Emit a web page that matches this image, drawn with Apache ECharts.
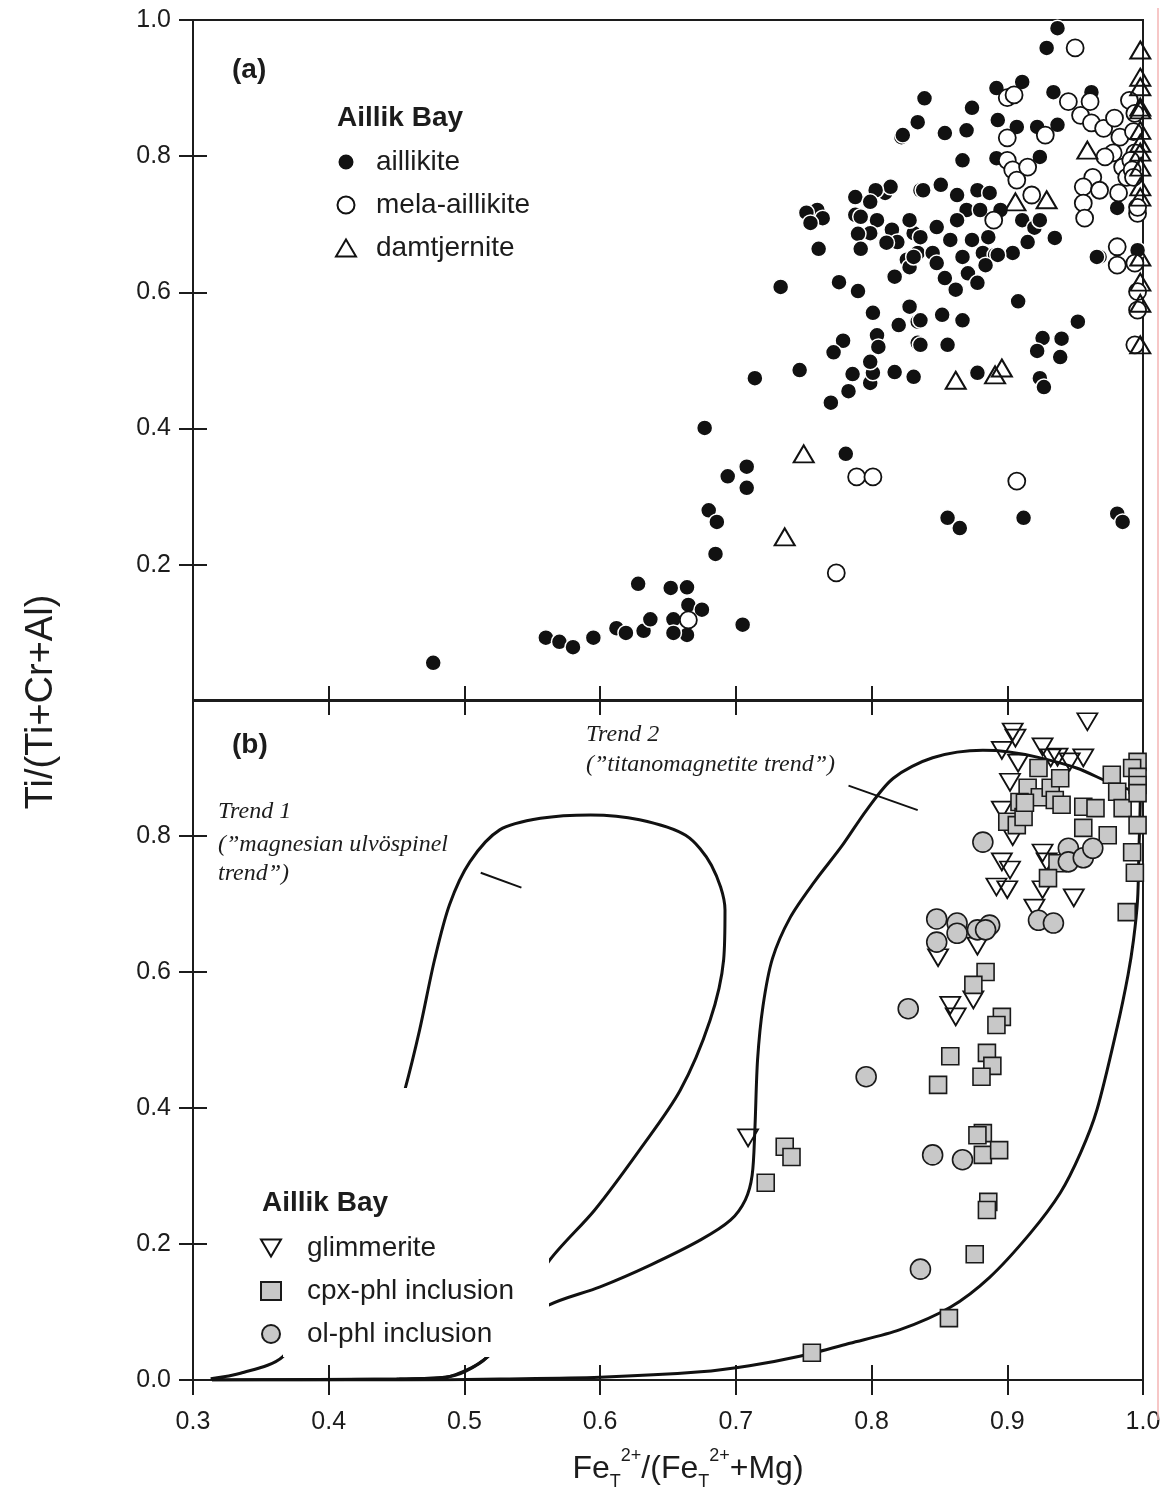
<!DOCTYPE html>
<html><head><meta charset="utf-8">
<script src="https://cdn.jsdelivr.net/npm/echarts@6/dist/echarts.min.js"></script>
<style>html,body{margin:0;padding:0;background:#fff}#c{width:1170px;height:1499px}</style>
</head><body><div id="c"></div>
<script>
// ---------- Panel (a) data: Ti/(Ti+Cr+Al) vs FeT2+/(FeT2++Mg) ----------
const aillikite = [
 [0.477,0.056],[0.560,0.093],[0.570,0.087],[0.580,0.079],[0.595,0.093],[0.612,0.107],[0.619,0.100],[0.632,0.103],[0.637,0.120],[0.654,0.120],
 [0.628,0.172],[0.652,0.166],[0.664,0.167],[0.665,0.141],[0.675,0.134],[0.664,0.097],[0.654,0.100],[0.705,0.112],[0.685,0.216],[0.680,0.280],
 [0.686,0.263],[0.694,0.330],[0.708,0.344],[0.708,0.313],[0.677,0.401],
 [0.714,0.474],[0.747,0.486],[0.781,0.363],[0.770,0.438],[0.783,0.455],[0.799,0.467],[0.786,0.480],[0.801,0.482],[0.817,0.483],[0.831,0.476],
 [0.779,0.529],[0.772,0.512],[0.801,0.570],[0.804,0.537],[0.805,0.520],[0.799,0.498],[0.820,0.552],[0.828,0.579],[0.834,0.557],[0.834,0.526],
 [0.839,0.885],[0.834,0.850],[0.822,0.828],[0.836,0.750],[0.810,0.746],[0.814,0.755],[0.803,0.750],[0.788,0.740],[0.799,0.733],[0.788,0.714],
 [0.792,0.711],[0.804,0.706],[0.799,0.687],[0.790,0.686],[0.792,0.664],[0.815,0.692],[0.819,0.674],[0.811,0.673],[0.831,0.687],[0.834,0.658],
 [0.826,0.648],[0.828,0.637],[0.817,0.623],[0.760,0.721],[0.752,0.717],[0.764,0.709],[0.755,0.702],[0.761,0.664],[0.733,0.608],[0.776,0.615],[0.790,0.602],
 [0.937,0.988],[0.929,0.959],[0.823,0.831],[0.854,0.834],[0.874,0.871],[0.870,0.838],[0.867,0.794],[0.892,0.900],[0.911,0.909],[0.893,0.853],
 [0.907,0.843],[0.892,0.797],[0.924,0.799],[0.922,0.843],[0.934,0.894],[0.937,0.846],[0.962,0.894],[0.981,0.724],[0.911,0.706],[0.920,0.695],
 [0.915,0.674],[0.935,0.680],[0.968,0.652],[0.996,0.662],
 [0.838,0.750],[0.851,0.758],[0.863,0.743],[0.878,0.750],[0.887,0.746],[0.870,0.721],[0.880,0.721],[0.895,0.721],[0.828,0.706],[0.848,0.696],
 [0.863,0.706],[0.836,0.681],[0.858,0.677],[0.874,0.677],[0.886,0.681],[0.831,0.652],[0.845,0.658],[0.867,0.652],[0.882,0.658],[0.891,0.655],
 [0.904,0.658],[0.924,0.706],
 [0.848,0.643],[0.854,0.621],[0.871,0.628],[0.862,0.604],[0.878,0.614],[0.884,0.640],[0.893,0.655],[0.836,0.559],[0.852,0.567],[0.867,0.559],
 [0.836,0.523],[0.856,0.523],[0.878,0.482],[0.908,0.587],[0.952,0.557],[0.926,0.533],[0.940,0.532],[0.922,0.514],[0.939,0.505],[0.924,0.474],
 [0.927,0.461],[0.966,0.652],[0.856,0.269],[0.865,0.254],[0.912,0.269],[0.981,0.275],[0.985,0.263]
];
const melaAillikite = [
 [0.665,0.119],[0.774,0.188],[0.789,0.329],[0.801,0.329],[0.907,0.323],[0.950,0.959],
 [0.900,0.886],[0.905,0.890],[0.900,0.827],[0.900,0.794],[0.904,0.780],[0.915,0.784],[0.907,0.765],[0.928,0.831],[0.945,0.880],[0.954,0.860],
 [0.961,0.880],[0.962,0.849],[0.971,0.841],[0.979,0.856],[0.983,0.828],[0.978,0.805],[0.972,0.799],[0.963,0.769],[0.956,0.755],[0.968,0.750],
 [0.956,0.731],[0.982,0.746],[0.985,0.784],[0.988,0.769],[0.990,0.882],[0.996,0.716],[0.957,0.709],[0.918,0.743],[0.890,0.706],
 [0.994,0.863],[0.993,0.836],[0.994,0.805],[0.991,0.794],[0.992,0.780],[0.993,0.769],[0.996,0.725],
 [0.981,0.667],[0.981,0.640],[0.994,0.643],[0.996,0.601],[0.996,0.574],[0.994,0.523]
];
const damtjernite = [
 [0.736,0.241],[0.750,0.363],[0.862,0.471],[0.891,0.479],[0.896,0.489],[0.959,0.809],[0.906,0.733],[0.929,0.736],
 [0.998,0.956],[0.998,0.916],[0.998,0.902],[0.998,0.872],[0.998,0.868],[0.998,0.838],[0.998,0.819],[0.998,0.806],
 [0.998,0.784],[0.998,0.755],[0.998,0.740],[0.998,0.652],[0.998,0.615],[0.998,0.584],[0.998,0.523]
];

// ---------- Panel (b) data ----------
const glimmerite = [
 [0.959,0.968],[0.904,0.953],[0.906,0.944],[0.896,0.926],[0.908,0.907],[0.926,0.931],[0.937,0.916],[0.946,0.909],[0.956,0.915],[0.932,0.915],
 [0.902,0.879],[0.896,0.838],[0.904,0.799],[0.896,0.762],[0.902,0.750],[0.892,0.725],[0.900,0.721],[0.926,0.775],[0.929,0.762],[0.926,0.721],
 [0.949,0.709],[0.920,0.694],[0.878,0.638],[0.849,0.621],[0.858,0.551],[0.862,0.534],[0.875,0.559],[0.709,0.356]
];
const cpxPhl = [
 [0.923,0.900],[0.915,0.871],[0.909,0.850],[0.924,0.857],[0.932,0.871],[0.935,0.853],[0.940,0.846],[0.939,0.885],[0.900,0.821],[0.907,0.816],
 [0.912,0.828],[0.913,0.849],[0.956,0.843],[0.965,0.841],[0.956,0.812],[0.974,0.801],[0.977,0.890],[0.981,0.865],[0.985,0.841],[0.996,0.909],
 [0.992,0.900],[0.996,0.887],[0.996,0.875],[0.996,0.863],[0.996,0.816],[0.992,0.776],[0.994,0.746],[0.988,0.688],[0.937,0.760],[0.930,0.738],
 [0.884,0.600],[0.875,0.581],[0.896,0.534],[0.892,0.522],[0.858,0.476],[0.849,0.434],[0.885,0.481],[0.889,0.462],[0.881,0.446],[0.882,0.363],
 [0.878,0.360],[0.882,0.331],[0.894,0.338],[0.886,0.262],[0.885,0.250],[0.876,0.185],[0.857,0.091],[0.736,0.343],[0.741,0.328],[0.722,0.290],[0.756,0.040]
];
const olPhl = [
 [0.882,0.791],[0.945,0.782],[0.945,0.762],[0.956,0.768],[0.963,0.782],[0.923,0.676],[0.934,0.672],[0.848,0.678],[0.863,0.672],[0.863,0.657],
 [0.878,0.662],[0.887,0.669],[0.884,0.662],[0.848,0.644],[0.827,0.546],[0.796,0.446],[0.845,0.331],[0.867,0.324],[0.836,0.163]
];
// Trend outlines (panel b)
const trend1 = [
 [0.313,0.002],[0.335,0.010],[0.366,0.034],[0.401,0.132],[0.430,0.279],[0.449,0.382],[0.456,0.426],[0.467,0.515],[0.478,0.618],[0.489,0.699],
 [0.504,0.762],[0.526,0.809],[0.556,0.826],[0.593,0.831],[0.629,0.824],[0.663,0.801],[0.682,0.757],[0.692,0.691],[0.691,0.618],[0.681,0.529],
 [0.659,0.426],[0.629,0.338],[0.596,0.250],[0.562,0.174],[0.537,0.088],[0.517,0.034],[0.500,0.012],[0.486,0.004],[0.452,0.0015],[0.379,0.0005],[0.314,0.0]
];
const trend2 = [
 [0.314,0.0],[0.450,0.0015],[0.486,0.004],[0.505,0.018],[0.517,0.034],[0.540,0.076],[0.562,0.110],[0.600,0.137],[0.637,0.169],[0.674,0.206],
 [0.696,0.235],[0.707,0.265],[0.712,0.301],[0.714,0.368],[0.716,0.471],[0.720,0.550],[0.727,0.620],[0.740,0.680],[0.758,0.733],[0.778,0.785],
 [0.797,0.840],[0.816,0.885],[0.845,0.915],[0.882,0.926],[0.900,0.924],[0.922,0.916],[0.951,0.900],[0.976,0.878],[0.990,0.868],[0.998,0.857],
 [0.997,0.779],[0.996,0.706],[0.993,0.647],[0.989,0.596],[0.981,0.519],[0.966,0.397],[0.954,0.334],[0.939,0.275],[0.917,0.216],[0.887,0.151],
 [0.858,0.107],[0.821,0.074],[0.784,0.054],[0.747,0.035],[0.710,0.021],[0.674,0.012],[0.600,0.004],[0.526,0.0015],[0.453,0.0],[0.314,0.0]
];
const pointer1 = [[0.512,0.746],[0.542,0.724]];
const pointer2 = [[0.783,0.874],[0.834,0.838]];

// ---------- Axis ticks ----------
const xMin = 0.3, xMax = 1.0, xStep = 0.1;
const yTicksA = [0.2,0.4,0.6,0.8,1.0];
const yTicksB = [0.0,0.2,0.4,0.6,0.8];

const FONT = '"Liberation Sans", Arial, sans-serif';
const INK = '#1c1c1c';
const fmt = v => Number(v).toFixed(1);

function xAxisDef(grid, pos, inside, labels) {
  return {
    type:'value', gridIndex:grid, position:pos, min:xMin, max:xMax, interval:xStep,
    axisLine:{show:true, onZero:false, lineStyle:{color:INK, width:2}},
    axisTick:{show:true, inside:inside, length:15, lineStyle:{color:INK, width:2}},
    axisLabel:{show:labels, margin:30, fontSize:25, fontFamily:FONT, color:INK, formatter:fmt},
    splitLine:{show:false}
  };
}
function yAxisDef(grid, ticks, inside, labels) {
  return {
    type:'value', gridIndex:grid, position:'left', min:0, max:1, interval:0.2,
    axisLine:{show:true, onZero:false, lineStyle:{color:INK, width:2}},
    axisTick:{show:true, inside:inside, length:14, customValues:ticks, lineStyle:{color:INK, width:2}},
    axisLabel:{show:labels, margin:22, fontSize:25, fontFamily:FONT, color:INK, formatter:fmt, customValues:ticks},
    splitLine:{show:false}
  };
}

const chart = echarts.init(document.getElementById('c'), null, {renderer:'canvas'});
function legendText(spacer) {
  return {fontSize:28, fontFamily:FONT, color:INK, rich:{s:{width:spacer, fontSize:28}}};
}
const option = {
  animation:false,
  backgroundColor:'#fff',
  grid:[
    {left:193, top:20, width:950, height:681, show:true, borderColor:INK, borderWidth:2, backgroundColor:'transparent'},
    {left:193, top:700, width:950, height:680, show:true, borderColor:INK, borderWidth:2, backgroundColor:'transparent'}
  ],
  xAxis:[ xAxisDef(0,'bottom',true,false), xAxisDef(1,'bottom',false,true), xAxisDef(1,'bottom',true,false), xAxisDef(1,'top',true,false) ],
  yAxis:[ yAxisDef(0,yTicksA,false,true), yAxisDef(0,yTicksA,true,false), yAxisDef(1,yTicksB,false,true), yAxisDef(1,yTicksB,true,false) ],
  legend:[
    {data:['aillikite','mela-aillikite','damtjernite'], orient:'vertical', left:335, top:148, padding:0,
     itemWidth:20, itemHeight:17, itemGap:15, symbolKeepAspect:true, selectedMode:false,
     formatter:n => '{s| }' + n, textStyle:legendText(15), z:60},
    {data:['glimmerite','cpx-phl inclusion','ol-phl inclusion'], orient:'vertical', left:260, top:1234, padding:0,
     itemWidth:20, itemHeight:18, itemGap:15, symbolKeepAspect:true, selectedMode:false,
     formatter:n => '{s| }' + n, textStyle:legendText(21), z:60}
  ],
  series:[
    {name:'aillikite', type:'scatter', xAxisIndex:0, yAxisIndex:0, data:aillikite, symbol:'circle', symbolSize:16,
     itemStyle:{color:'#111', borderColor:'#fff', borderWidth:1.5, opacity:1}, emphasis:{disabled:true}, z:2},
    {name:'mela-aillikite', type:'scatter', xAxisIndex:0, yAxisIndex:0, data:melaAillikite, symbol:'circle', symbolSize:17,
     itemStyle:{color:'#fff', borderColor:'#111', borderWidth:1.8, opacity:1}, emphasis:{disabled:true}, z:3},
    {name:'damtjernite', type:'scatter', xAxisIndex:0, yAxisIndex:0, data:damtjernite, symbol:'triangle', symbolSize:[20,17],
     itemStyle:{color:'rgba(255,255,255,0)', borderColor:'#111', borderWidth:2, opacity:1}, emphasis:{disabled:true}, z:4},

    {name:'Trend 1', type:'line', xAxisIndex:1, yAxisIndex:2, data:trend1, smooth:0.3, symbol:'none',
     lineStyle:{color:'#111', width:3}, emphasis:{disabled:true}, z:1},
    {name:'Trend 2', type:'line', xAxisIndex:1, yAxisIndex:2, data:trend2, smooth:0.3, symbol:'none',
     lineStyle:{color:'#111', width:3}, emphasis:{disabled:true}, z:1},
    {name:'ptr1', type:'line', xAxisIndex:1, yAxisIndex:2, data:pointer1, symbol:'none',
     lineStyle:{color:'#111', width:2}, emphasis:{disabled:true}, z:1},
    {name:'ptr2', type:'line', xAxisIndex:1, yAxisIndex:2, data:pointer2, symbol:'none',
     lineStyle:{color:'#111', width:2}, emphasis:{disabled:true}, z:1},

    {name:'glimmerite', type:'scatter', xAxisIndex:1, yAxisIndex:2, data:glimmerite, symbol:'path://M0,0L20,0L10,17Z', symbolSize:[20,17],
     itemStyle:{color:'rgba(255,255,255,0)', borderColor:'#111', borderWidth:1.8, opacity:1}, emphasis:{disabled:true}, z:3},
    {name:'cpx-phl inclusion', type:'scatter', xAxisIndex:1, yAxisIndex:2, data:cpxPhl, symbol:'rect', symbolSize:17,
     itemStyle:{color:'#c8c8c8', borderColor:'#1a1a1a', borderWidth:1.6, opacity:1}, emphasis:{disabled:true}, z:4},
    {name:'ol-phl inclusion', type:'scatter', xAxisIndex:1, yAxisIndex:2, data:olPhl, symbol:'circle', symbolSize:20,
     itemStyle:{color:'#c8c8c8', borderColor:'#1a1a1a', borderWidth:1.6, opacity:1}, emphasis:{disabled:true}, z:5}
  ],
  graphic:{elements:[
    {type:'rect', z:50, shape:{x:283, y:1088, width:266, height:269}, style:{fill:'#fff'}, silent:true},
    {type:'text', z:70, x:232, y:70, style:{text:'(a)', font:'bold 28px '+FONT, fill:INK, textVerticalAlign:'middle'}},
    {type:'text', z:70, x:232, y:745, style:{text:'(b)', font:'bold 28px '+FONT, fill:INK, textVerticalAlign:'middle'}},
    {type:'text', z:70, x:337, y:118, style:{text:'Aillik Bay', font:'bold 28px '+FONT, fill:INK, textVerticalAlign:'middle'}},
    {type:'text', z:70, x:262, y:1203, style:{text:'Aillik Bay', font:'bold 28px '+FONT, fill:INK, textVerticalAlign:'middle'}},
    {type:'text', z:70, x:218, y:812, style:{text:'Trend 1', font:'italic 24px "Liberation Serif", serif', fill:INK, textVerticalAlign:'middle'}},
    {type:'text', z:70, x:218, y:845, style:{text:'(\u201Dmagnesian ulv\u00F6spinel', font:'italic 24px "Liberation Serif", serif', fill:INK, textVerticalAlign:'middle'}},
    {type:'text', z:70, x:218, y:874, style:{text:'trend\u201D)', font:'italic 24px "Liberation Serif", serif', fill:INK, textVerticalAlign:'middle'}},
    {type:'text', z:70, x:586, y:735, style:{text:'Trend 2', font:'italic 24px "Liberation Serif", serif', fill:INK, textVerticalAlign:'middle'}},
    {type:'text', z:70, x:586, y:765, style:{text:'(\u201Dtitanomagnetite trend\u201D)', font:'italic 24px "Liberation Serif", serif', fill:INK, textVerticalAlign:'middle'}},
    {type:'text', z:70, x:42, y:702, rotation:Math.PI/2, style:{text:'Ti/(Ti+Cr+Al)', font:'38px '+FONT, fill:INK, textAlign:'center', textVerticalAlign:'middle'}},
    {type:'text', z:70, x:688, y:1469, style:{
      text:'{m|Fe}{sub|T}{sup|2+}{m|/(Fe}{sub|T}{sup|2+}{m|+Mg)}', textAlign:'center', textVerticalAlign:'middle',
      rich:{
        m:{fontSize:32, fontFamily:FONT, fill:INK, color:INK, lineHeight:44},
        sub:{fontSize:18, fontFamily:FONT, fill:INK, color:INK, verticalAlign:'bottom', lineHeight:34},
        sup:{fontSize:18, fontFamily:FONT, fill:INK, color:INK, verticalAlign:'top', lineHeight:26}
      }}},
    {type:'line', z:70, shape:{x1:1158, y1:8, x2:1158, y2:1420}, style:{stroke:'#f4b4b4', lineWidth:1.5}, silent:true}
  ]}
};
chart.setOption(option);
</script>
</body></html>
